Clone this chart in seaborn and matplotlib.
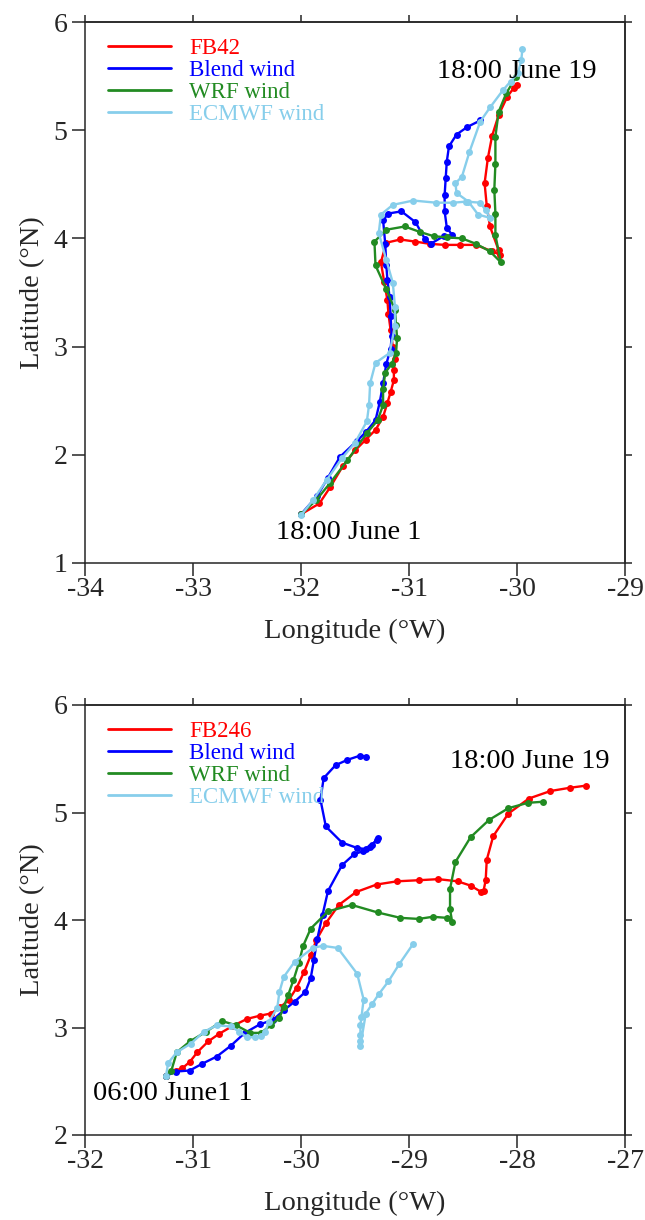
import matplotlib
matplotlib.use("Agg")
import matplotlib.pyplot as plt
import seaborn as sns
import pandas as pd
from matplotlib.lines import Line2D

# ---------------- data ----------------
series_names_top = ["FB42", "Blend wind", "WRF wind", "ECMWF wind"]
series_names_bot = ["FB246", "Blend wind", "WRF wind", "ECMWF wind"]
colors = ["#ff0000", "#0000ff", "#228b22", "#87ceeb"]

top_fb42_lon = [-32.00, -31.83, -31.73, -31.61, -31.50, -31.40, -31.31, -31.24, -31.20, -31.17, -31.14, -31.14, -31.13,
                -31.15, -31.17, -31.19, -31.20, -31.23, -31.26, -31.21, -31.08, -30.94, -30.81, -30.67, -30.53, -30.38,
                -30.23, -30.16, -30.17, -30.25, -30.28, -30.30, -30.27, -30.23, -30.17, -30.09, -30.03, -30.00]
top_fb42_lat = [1.45, 1.55, 1.70, 1.90, 2.04, 2.14, 2.23, 2.35, 2.48, 2.58, 2.69, 2.78, 2.89,
                3.00, 3.15, 3.30, 3.43, 3.60, 3.78, 3.96, 3.99, 3.97, 3.95, 3.94, 3.94, 3.94,
                3.88, 3.85, 3.89, 4.11, 4.30, 4.51, 4.74, 4.95, 5.14, 5.31, 5.39, 5.42]

top_blend_lon = [-32.00, -31.85, -31.75, -31.64, -31.48, -31.40, -31.31, -31.27, -31.24, -31.21, -31.17, -31.16,
                 -31.17, -31.18, -31.20, -31.21, -31.22, -31.24, -31.19, -31.07, -30.94, -30.85, -30.80, -30.68,
                 -30.60, -30.65, -30.67, -30.67, -30.66, -30.65, -30.63, -30.56, -30.46, -30.34]
top_blend_lat = [1.45, 1.62, 1.79, 1.98, 2.13, 2.21, 2.32, 2.49, 2.66, 2.84, 2.98, 3.10,
                 3.28, 3.46, 3.62, 3.75, 3.95, 4.17, 4.23, 4.25, 4.15, 3.99, 3.95, 4.02,
                 4.03, 4.10, 4.25, 4.40, 4.56, 4.71, 4.85, 4.96, 5.03, 5.09]

top_wrf_lon = [-32.00, -31.86, -31.73, -31.57, -31.39, -31.29, -31.24, -31.24, -31.22, -31.16, -31.12, -31.11,
               -31.12, -31.13, -31.21, -31.31, -31.32, -31.21, -31.04, -30.90, -30.77, -30.65, -30.51, -30.38,
               -30.25, -30.15, -30.20, -30.20, -30.21, -30.20, -30.20, -30.17, -30.10, -30.01]
top_wrf_lat = [1.45, 1.58, 1.74, 1.95, 2.20, 2.32, 2.46, 2.61, 2.76, 2.84, 2.94, 3.08,
               3.20, 3.34, 3.53, 3.75, 3.97, 4.08, 4.11, 4.06, 4.02, 4.01, 4.00, 3.95,
               3.88, 3.78, 4.03, 4.23, 4.45, 4.69, 4.94, 5.17, 5.34, 5.49]

top_ecmwf_lon = [-32.00, -31.89, -31.76, -31.62, -31.50, -31.39, -31.37, -31.36, -31.31, -31.18, -31.13, -31.13,
                 -31.15, -31.21, -31.28, -31.26, -31.15, -30.96, -30.75, -30.59, -30.47, -30.34, -30.29, -30.25,
                 -30.36, -30.45, -30.56, -30.57, -30.51, -30.44, -30.34, -30.25, -30.13, -30.06, -29.99, -29.96,
                 -29.95]
top_ecmwf_lat = [1.44, 1.58, 1.77, 1.97, 2.11, 2.31, 2.46, 2.66, 2.85, 2.94, 3.19, 3.37,
                 3.59, 3.80, 4.05, 4.22, 4.31, 4.35, 4.33, 4.33, 4.34, 4.33, 4.26, 4.19,
                 4.22, 4.34, 4.42, 4.51, 4.57, 4.80, 5.08, 5.21, 5.37, 5.45, 5.53, 5.65,
                 5.75]

bot_fb246_lon = [-31.25, -31.16, -31.10, -31.03, -30.96, -30.86, -30.76, -30.64, -30.50, -30.38, -30.28, -30.19,
                 -30.11, -30.04, -29.97, -29.91, -29.86, -29.77, -29.65, -29.49, -29.30, -29.11, -28.91, -28.73,
                 -28.55, -28.43, -28.33, -28.31, -28.29, -28.28, -28.22, -28.08, -27.89, -27.69, -27.51, -27.36]
bot_fb246_lat = [2.55, 2.60, 2.62, 2.68, 2.77, 2.87, 2.94, 3.01, 3.08, 3.11, 3.13, 3.19,
                 3.26, 3.37, 3.52, 3.67, 3.81, 3.97, 4.14, 4.26, 4.33, 4.36, 4.37, 4.38,
                 4.36, 4.32, 4.26, 4.27, 4.37, 4.56, 4.78, 4.99, 5.13, 5.20, 5.23, 5.25]

bot_blend_lon = [-31.25, -31.16, -31.03, -30.92, -30.78, -30.65, -30.52, -30.38, -30.26, -30.16, -30.06, -29.96,
                 -29.91, -29.88, -29.85, -29.80, -29.75, -29.62, -29.51, -29.43, -29.36, -29.30, -29.29, -29.34,
                 -29.40, -29.48, -29.62, -29.77, -29.82, -29.79, -29.68, -29.57, -29.45, -29.40]
bot_blend_lat = [2.55, 2.59, 2.60, 2.66, 2.73, 2.83, 2.95, 3.03, 3.07, 3.16, 3.24, 3.33,
                 3.46, 3.63, 3.82, 4.05, 4.27, 4.51, 4.61, 4.64, 4.68, 4.74, 4.76, 4.70,
                 4.66, 4.67, 4.72, 4.87, 5.12, 5.32, 5.44, 5.49, 5.53, 5.52]

bot_wrf_lon = [-31.25, -31.20, -31.15, -31.03, -30.88, -30.73, -30.60, -30.47, -30.37, -30.28, -30.20, -30.16,
               -30.12, -30.07, -30.02, -29.98, -29.91, -29.75, -29.53, -29.29, -29.08, -28.91, -28.78, -28.65,
               -28.60, -28.62, -28.62, -28.57, -28.43, -28.26, -28.08, -27.90, -27.76]
bot_wrf_lat = [2.55, 2.60, 2.77, 2.87, 2.96, 3.06, 3.02, 2.95, 2.95, 3.02, 3.09, 3.19,
               3.30, 3.44, 3.60, 3.76, 3.92, 4.08, 4.14, 4.07, 4.02, 4.01, 4.03, 4.02,
               3.98, 4.10, 4.29, 4.54, 4.77, 4.93, 5.04, 5.09, 5.10]

bot_ecmwf_lon = [-31.25, -31.23, -31.15, -31.02, -30.90, -30.78, -30.65, -30.57, -30.50, -30.43, -30.37, -30.33,
                 -30.30, -30.22, -30.20, -30.16, -30.06, -29.89, -29.80, -29.66, -29.48, -29.42, -29.44, -29.45,
                 -29.45, -29.45, -29.45, -29.40, -29.34, -29.28, -29.19, -29.09, -28.96]
bot_ecmwf_lat = [2.55, 2.67, 2.77, 2.85, 2.96, 3.02, 3.01, 2.96, 2.91, 2.91, 2.92, 2.96,
                 3.05, 3.18, 3.33, 3.47, 3.61, 3.74, 3.76, 3.74, 3.50, 3.26, 3.10, 3.02,
                 2.93, 2.87, 2.83, 3.13, 3.22, 3.31, 3.43, 3.59, 3.78]

top_xticks = [-34, -33, -32, -31, -30, -29]
top_yticks = [1, 2, 3, 4, 5, 6]
bot_xticks = [-32, -31, -30, -29, -28, -27]
bot_yticks = [2, 3, 4, 5, 6]

top_annotations = [("18:00 June 19", -30.0, 5.54), ("18:00 June 1", -31.56, 1.28)]
bot_annotations = [("18:00 June 19", -27.88, 5.47), ("06:00 June1 1", -31.93, 2.39)]

# ---------------- style ----------------
sns.set_style("ticks")
plt.rcParams["font.family"] = ["Liberation Serif", "DejaVu Serif"]
plt.rcParams["axes.unicode_minus"] = False
plt.rcParams["axes.linewidth"] = 1.1

fig = plt.figure(figsize=(6.45, 12.2), dpi=100)
ax_top = fig.add_axes([85 / 645, 1 - 563 / 1220, 540 / 645, 541 / 1220])
ax_bot = fig.add_axes([85 / 645, 1 - 1135 / 1220, 540 / 645, 430 / 1220])


def draw_panel(ax, lons, lats, names, xticks, yticks, annots, ann_ha):
    for lon, lat, name, col in zip(lons, lats, names, colors):
        df = pd.DataFrame({"lon": lon, "lat": lat})
        sns.lineplot(data=df, x="lon", y="lat", sort=False, estimator=None, ax=ax,
                     color=col, lw=1.7, marker="o", markersize=5.0, markeredgewidth=0,
                     legend=False)
    ax.set_xlim(xticks[0], xticks[-1])
    ax.set_ylim(yticks[0], yticks[-1])
    ax.set_xticks(xticks)
    ax.set_yticks(yticks)
    ax.set_xticklabels([str(t) for t in xticks])
    ax.set_yticklabels([str(t) for t in yticks])
    ax.tick_params(direction="out", length=9.5, width=1.1, labelsize=20, pad=3)
    ax.tick_params(axis="x", pad=0.5)
    ax.set_xlabel("Longitude (°W)", fontsize=20.5, labelpad=12)
    ax.set_ylabel("Latitude (°N)", fontsize=20.5, labelpad=6)
    for s in ax.spines.values():
        s.set_visible(True)
        s.set_linewidth(1.1)
    sx = ax.secondary_xaxis("top")
    sx.set_xticks(xticks)
    sx.tick_params(direction="out", length=5, width=1.1, labeltop=False)
    sy = ax.secondary_yaxis("right")
    sy.set_yticks(yticks)
    sy.tick_params(direction="out", length=5, width=1.1, labelright=False)
    for (txt, x, y), ha in zip(annots, ann_ha):
        ax.text(x, y, txt, fontsize=20.5, ha=ha, va="center", color="black")
    handles = [Line2D([0], [0], color=c, lw=2.0) for c in colors]
    ax.legend(handles, names, loc="upper left", frameon=False, fontsize=16.5,
              labelcolor=colors, handlelength=2.75, handletextpad=0.8,
              labelspacing=0.04, borderaxespad=0.3, bbox_to_anchor=(0.012, 1.0))


draw_panel(ax_top,
           [top_fb42_lon, top_blend_lon, top_wrf_lon, top_ecmwf_lon],
           [top_fb42_lat, top_blend_lat, top_wrf_lat, top_ecmwf_lat],
           series_names_top, top_xticks, top_yticks, top_annotations, ["center", "center"])
draw_panel(ax_bot,
           [bot_fb246_lon, bot_blend_lon, bot_wrf_lon, bot_ecmwf_lon],
           [bot_fb246_lat, bot_blend_lat, bot_wrf_lat, bot_ecmwf_lat],
           series_names_bot, bot_xticks, bot_yticks, bot_annotations, ["center", "left"])

fig.savefig("out.png", dpi=100)
